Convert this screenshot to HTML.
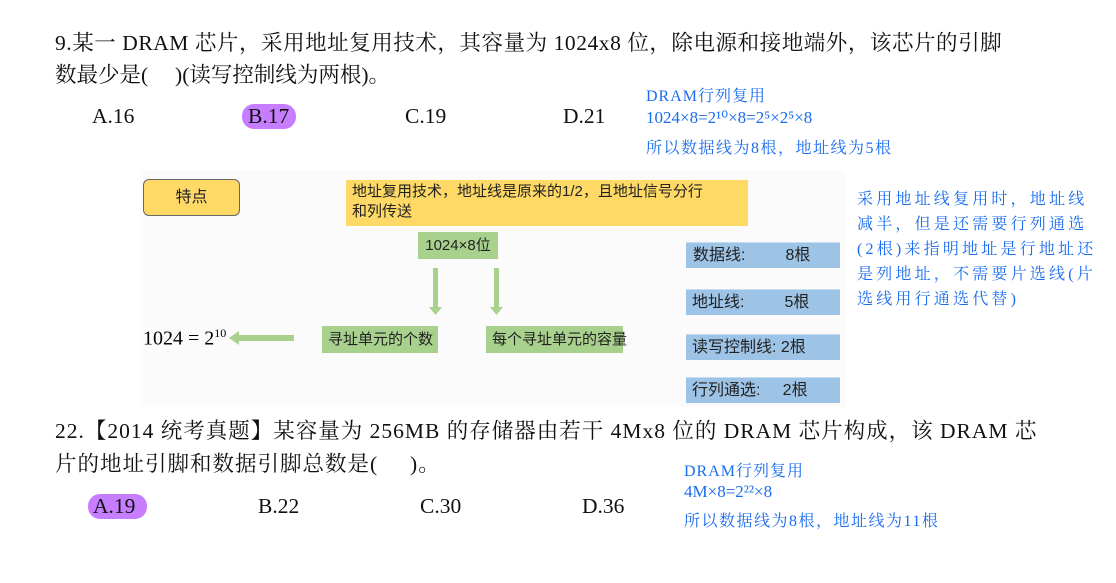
<!DOCTYPE html>
<html><head><meta charset="utf-8"><style>
body{margin:0;width:1116px;height:583px;background:#fff;position:relative;overflow:hidden;font-family:"Liberation Serif","Noto Serif CJK SC",serif;}
.a{position:absolute;white-space:nowrap;}
.q{font-size:21.5px;color:#111;}
.s{font-family:"Liberation Sans","Noto Sans CJK SC",sans-serif;font-size:16px;color:#222;}
.h{font-family:"Liberation Serif","Noto Serif CJK SC",serif;color:#1a6cf0;font-size:16px;}
.g{background:#a9d18e;font-size:15px;}
.b{background:#9dc3e6;border-top:1px solid #c6dcf0;}
.pill{background:#c77dff;border-radius:12px;}
</style></head><body>
<div class="a q" style="left:55px;top:26px;letter-spacing:0.55px">9.某一 DRAM 芯片，采用地址复用技术，其容量为 1024x8 位，除电源和接地端外，该芯片的引脚</div>
<div class="a q" style="left:55px;top:58px">数最少是(&nbsp;&nbsp;&nbsp;&nbsp;&nbsp;)(读写控制线为两根)。</div>
<div class="a q" style="left:92px;top:104px">A.16</div>
<div class="a pill" style="left:242px;top:104px;width:54px;height:25px"></div>
<div class="a q" style="left:248px;top:104px">B.17</div>
<div class="a q" style="left:405px;top:104px">C.19</div>
<div class="a q" style="left:563px;top:104px">D.21</div>
<div class="a h" style="left:646px;top:83px;letter-spacing:1px">DRAM行列复用</div>
<div class="a h" style="left:646px;top:108px;font-size:17px">1024×8=2¹⁰×8=2⁵×2⁵×8</div>
<div class="a h" style="left:646px;top:135px;letter-spacing:1.5px">所以数据线为8根，地址线为5根</div>

<div class="a" style="left:140px;top:170px;width:705px;height:237px;background:#fbfbfb"></div>
<div class="a s" style="left:143px;top:179px;width:95px;height:35px;background:#ffd966;border:1px solid #666;border-radius:6px;text-align:center;line-height:35px;font-size:16px">特点</div>
<div class="a s" style="left:346px;top:180px;width:402px;height:46px;background:#ffd966;padding:2px 6px;box-sizing:border-box;line-height:20px;font-size:15px">地址复用技术，地址线是原来的1/2，且地址信号分行<br>和列传送</div>
<div class="a s g" style="left:418px;top:232px;width:80px;height:27px;line-height:27px;text-align:center">1024×8位</div>
<svg class="a" style="left:0;top:0" width="1116" height="583">
<g fill="#a9d18e" stroke="none">
<rect x="433" y="268" width="5" height="40"/><polygon points="429,307 442,307 435.5,315"/>
<rect x="494" y="268" width="5" height="40"/><polygon points="490,307 503,307 496.5,315"/>
<rect x="238" y="335" width="56" height="6"/><polygon points="239,331 239,345 229,338"/>
</g></svg>
<div class="a s g" style="left:322px;top:326px;width:116px;height:27px;line-height:27px;padding-left:6px;box-sizing:border-box">寻址单元的个数</div>
<div class="a s g" style="left:486px;top:326px;width:137px;height:27px;line-height:27px;padding-left:6px;box-sizing:border-box">每个寻址单元的容量</div>
<div class="a" style="left:143px;top:326px;font-size:20px">1024 = 2<sup style="font-size:12px">10</sup></div>
<div class="a s b" style="left:686px;top:242px;width:154px;height:26px;line-height:26px;padding-left:7px;box-sizing:border-box">数据线:&nbsp;&nbsp;&nbsp;&nbsp;&nbsp;&nbsp;&nbsp;&nbsp;&nbsp;8根</div>
<div class="a s b" style="left:686px;top:289px;width:154px;height:26px;line-height:26px;padding-left:6px;box-sizing:border-box">地址线:&nbsp;&nbsp;&nbsp;&nbsp;&nbsp;&nbsp;&nbsp;&nbsp;&nbsp;5根</div>
<div class="a s b" style="left:686px;top:334px;width:154px;height:26px;line-height:26px;padding-left:6px;box-sizing:border-box">读写控制线: 2根</div>
<div class="a s b" style="left:686px;top:377px;width:154px;height:26px;line-height:26px;padding-left:6px;box-sizing:border-box">行列通选:&nbsp;&nbsp;&nbsp;&nbsp;&nbsp;2根</div>
<div class="a h" style="left:857px;top:187px;line-height:25px;letter-spacing:3.2px">采用地址线复用时，地址线<br>减半，但是还需要行列通选<br>(2根)来指明地址是行地址还<br>是列地址，不需要片选线(片<br>选线用行通选代替)</div>

<div class="a q" style="left:55px;top:414px;letter-spacing:1px">22.【2014 统考真题】某容量为 256MB 的存储器由若干 4Mx8 位的 DRAM 芯片构成，该 DRAM 芯</div>
<div class="a q" style="left:55px;top:447px;letter-spacing:1px">片的地址引脚和数据引脚总数是(&nbsp;&nbsp;&nbsp;&nbsp;&nbsp;)。</div>
<div class="a pill" style="left:88px;top:494px;width:59px;height:25px"></div>
<div class="a q" style="left:93px;top:494px">A.19</div>
<div class="a q" style="left:258px;top:494px">B.22</div>
<div class="a q" style="left:420px;top:494px">C.30</div>
<div class="a q" style="left:582px;top:494px">D.36</div>
<div class="a h" style="left:684px;top:458px;letter-spacing:1px">DRAM行列复用</div>
<div class="a h" style="left:684px;top:482px;font-size:17px">4M×8=2²²×8</div>
<div class="a h" style="left:684px;top:508px;letter-spacing:1.5px">所以数据线为8根，地址线为11根</div>
</body></html>
